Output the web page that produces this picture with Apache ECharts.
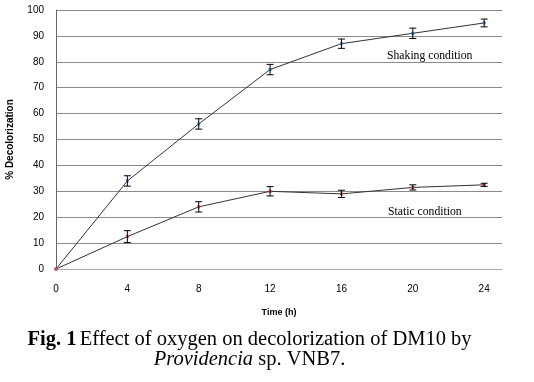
<!DOCTYPE html>
<html><head><meta charset="utf-8">
<script src="https://cdn.jsdelivr.net/npm/echarts@6/dist/echarts.min.js"></script>
<style>html,body{margin:0;padding:0;background:#fff}#c{width:534px;height:382px}</style>
</head><body><div id="c"></div>
<script>
var times = [0, 4, 8, 12, 16, 20, 24];
var shaking = [0, 34, 56, 77, 87, 91, 95];
var shakingErr = [0, 2, 2, 2, 1.8, 2, 1.5];
var staticCond = [0, 12.5, 24, 30, 29, 31.5, 32.5];
var staticErr = [0, 2.3, 2, 1.8, 1.4, 1, 0.6];
var yTicks = [0, 10, 20, 30, 40, 50, 60, 70, 80, 90, 100];
var xTicks = [0, 4, 8, 12, 16, 20, 24];

function pairs(v){ return times.map(function(t,i){ return [t, v[i]]; }); }
function errData(v, e){ return times.map(function(t,i){ return [t, v[i]-e[i], v[i]+e[i]]; }).filter(function(d,i){ return e[i] > 0; }); }
function errRender(params, api){
  var lo = api.coord([api.value(0), api.value(1)]);
  var hi = api.coord([api.value(0), api.value(2)]);
  var w = 3.5;
  var st = {stroke:'#000', lineWidth:1};
  return {type:'group', children:[
    {type:'line', shape:{x1:lo[0], y1:lo[1], x2:hi[0], y2:hi[1]}, style:st},
    {type:'line', shape:{x1:lo[0]-w, y1:lo[1], x2:lo[0]+w, y2:lo[1]}, style:st},
    {type:'line', shape:{x1:hi[0]-w, y1:hi[1], x2:hi[0]+w, y2:hi[1]}, style:st}
  ]};
}
var chart = echarts.init(document.getElementById('c'), null, {renderer:'canvas'});
chart.setOption({
  animation:false,
  grid:{left:56, right:32, top:10, bottom:113, containLabel:false, outerBoundsMode:'none'},
  xAxis:{type:'value', min:0, max:25, interval:4,
    name:'Time (h)', nameLocation:'middle', nameGap:39,
    nameTextStyle:{fontFamily:'Liberation Sans', fontSize:9, fontWeight:'bold', color:'#000'},
    axisLine:{lineStyle:{color:'#aaa', width:1}},
    axisTick:{show:false},
    axisLabel:{showMaxLabel:false, fontFamily:'Liberation Sans', fontSize:10, color:'#000', margin:15,
      formatter:function(v){ return xTicks.indexOf(v) >= 0 ? String(v) : ''; }},
    splitLine:{show:false}},
  yAxis:{type:'value', min:0, max:100, interval:10,
    name:'% Decolorization', nameLocation:'middle', nameGap:41,
    nameTextStyle:{fontFamily:'Liberation Sans', fontSize:10, fontWeight:'bold', color:'#000'},
    axisLine:{show:true, lineStyle:{color:'#666', width:1}},
    axisTick:{show:false},
    axisLabel:{fontFamily:'Liberation Sans', fontSize:10, color:'#000', margin:12,
      formatter:function(v){ return yTicks.indexOf(v) >= 0 ? String(v) : ''; }},
    splitLine:{lineStyle:{color:'#8a8a8a', width:1}}},
  series:[
    {type:'line', data:pairs(shaking), symbol:'rect', symbolSize:3, lineStyle:{color:'#333', width:1},
      itemStyle:{color:'#4f81bd'}, z:3},
    {type:'line', data:pairs(staticCond), symbol:'rect', symbolSize:3, lineStyle:{color:'#333', width:1},
      itemStyle:{color:'#c0504d'}, z:3},
    {type:'custom', data:errData(shaking, shakingErr), renderItem:errRender, z:4},
    {type:'custom', data:errData(staticCond, staticErr), renderItem:errRender, z:4}
  ],
  graphic:[
    {type:'text', left:387, top:50, style:{text:'Shaking condition', font:'11.7px "Liberation Serif"', fill:'#000'}},
    {type:'text', left:388, top:206, style:{text:'Static condition', font:'11.7px "Liberation Serif"', fill:'#000'}},
    {type:'text', x:249.5, y:340, style:{align:'center', verticalAlign:'middle',
      rich:{b:{font:'bold 20.5px "Liberation Serif"', fill:'#000'}, n:{font:'20.5px "Liberation Serif"', fill:'#000'}},
      text:'{b|Fig. 1} {n|Effect of oxygen on decolorization of DM10 by}'}},
    {type:'text', x:249.5, y:360, style:{align:'center', verticalAlign:'middle',
      rich:{i:{font:'italic 20.5px "Liberation Serif"', fill:'#000'}, n:{font:'20.5px "Liberation Serif"', fill:'#000'}},
      text:'{i|Providencia}{n| sp. VNB7.}'}}
  ]
});
</script></body></html>
